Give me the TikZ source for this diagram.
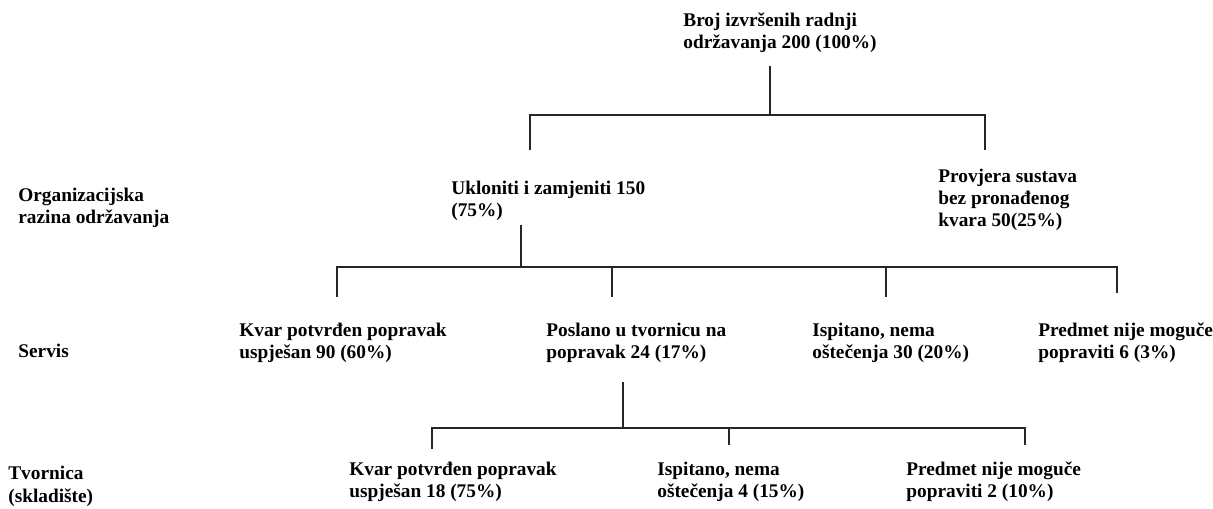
\documentclass[tikz,border=0pt]{standalone}
\usepackage{fontspec}
\setmainfont{Liberation Serif}
\usepackage{tikz}
\usetikzlibrary{calc}

\begin{document}
\begin{tikzpicture}[
    x=0.02cm, y=-0.02cm,
    lbl/.style={anchor=base west, inner sep=0pt, align=left, font=\fontsize{11}{12.8}\selectfont\bfseries},
    line/.style={draw=black!85, line width=0.8pt}
]
    \useasboundingbox (0,0) rectangle (1213,509);

    % razine (lijevi stupac)
    \node[lbl] (lvl1) at (18,224) {Organizacijska\\razina održavanja};
    \node[lbl] (lvl2) at (18,358) {Servis};
    \node[lbl] (lvl3) at (8,502) {Tvornica\\(skladište)};

    % stablo
    \node[lbl] (root) at (683,49) {Broj izvršenih radnji\\održavanja 200 (100\%)};
    \node[lbl] (remove) at (451,217) {Ukloniti i zamjeniti 150\\(75\%)};
    \node[lbl] (check) at (938,227) {Provjera sustava\\bez pronađenog\\kvara 50(25\%)};

    \node[lbl] (s1) at (239,359) {Kvar potvrđen popravak\\uspješan 90 (60\%)};
    \node[lbl] (s2) at (546,359) {Poslano u tvornicu na\\popravak 24 (17\%)};
    \node[lbl] (s3) at (812,359) {Ispitano, nema\\oštečenja 30 (20\%)};
    \node[lbl] (s4) at (1038,359) {Predmet nije moguče\\popraviti 6 (3\%)};

    \node[lbl] (f1) at (349,498) {Kvar potvrđen popravak\\uspješan 18 (75\%)};
    \node[lbl] (f2) at (657,498) {Ispitano, nema\\oštečenja 4 (15\%)};
    \node[lbl] (f3) at (906,498) {Predmet nije moguče\\popraviti 2 (10\%)};

    % spojnice
    \coordinate (j1) at (770,115);
    \coordinate (t1a) at (530,150);
    \coordinate (t1b) at (985,150);
    \draw[line] ($(root.south -| j1)+(0,13)$) -- (j1);
    \draw[line] (t1a) |- (j1) -| (t1b);

    \coordinate (j2) at (521,267);
    \coordinate (t2a) at (337,297);
    \coordinate (t2b) at (612,297);
    \coordinate (t2c) at (886,297);
    \coordinate (t2d) at (1117,293);
    \draw[line] ($(remove.south -| j2)+(0,4)$) -- (j2);
    \draw[line] (t2a) |- (j2) -| (t2d);
    \draw[line] (t2b) -- (t2b |- j2);
    \draw[line] (t2c) -- (t2c |- j2);

    \coordinate (j3) at (623,428);
    \coordinate (t3a) at (432,449);
    \coordinate (t3b) at (729,445);
    \coordinate (t3c) at (1025,445);
    \draw[line] ($(s2.south -| j3)+(0,19)$) -- (j3);
    \draw[line] (t3a) |- (j3) -| (t3c);
    \draw[line] (t3b) -- (t3b |- j3);
\end{tikzpicture}
\end{document}
